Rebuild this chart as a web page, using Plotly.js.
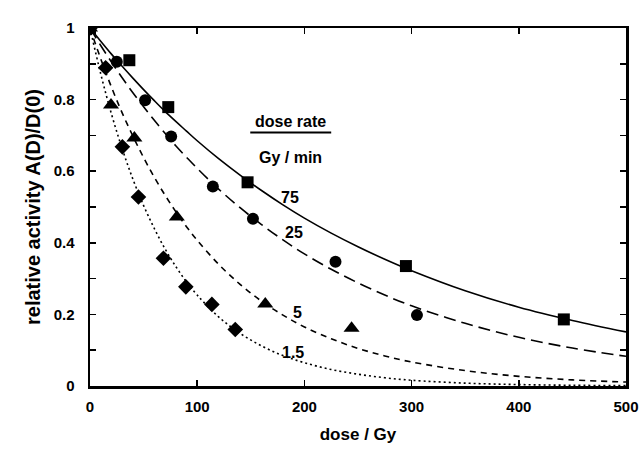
<!DOCTYPE html>
<html><head><meta charset="utf-8">
<script src="https://cdn.plot.ly/plotly-3.0.1.min.js"></script>
<style>html,body{margin:0;padding:0;background:#fff}#chart{width:641px;height:449px}</style>
</head><body><div id="chart"></div>
<script>
// measured points
const sqX = [0, 36.7, 73, 147, 294.7, 442];
const sqY = [1.0, 0.91, 0.779, 0.569, 0.335, 0.186];
const ciX = [0, 25, 51.4, 75.7, 114.6, 152, 229, 305];
const ciY = [1.0, 0.906, 0.798, 0.697, 0.557, 0.467, 0.347, 0.198];
const trX = [0, 19.6, 41.4, 81, 163.5, 244];
const trY = [1.0, 0.785, 0.693, 0.472, 0.229, 0.161];
const diX = [0, 14.6, 30.2, 45.2, 68.5, 89.4, 113.7, 135.5];
const diY = [1.0, 0.889, 0.668, 0.528, 0.357, 0.277, 0.228, 0.158];

// fitted curves
const curveX = [0,10,20,30,40,50,60,70,80,90,100,120,140,160,180,200,225,250,275,300,350,400,450,500];
const fit75  = [1,0.963,0.927,0.893,0.860,0.828,0.797,0.767,0.739,0.712,0.685,0.635,0.589,0.546,0.506,0.469,0.427,0.389,0.354,0.322,0.266,0.220,0.183,0.151];
const fit25  = [1,0.951,0.905,0.861,0.819,0.780,0.742,0.706,0.671,0.639,0.608,0.550,0.498,0.451,0.408,0.369,0.326,0.288,0.254,0.224,0.175,0.136,0.106,0.083];
const fit5   = [1,0.914,0.835,0.763,0.698,0.638,0.583,0.533,0.487,0.445,0.407,0.340,0.284,0.237,0.198,0.165,0.132,0.105,0.084,0.067,0.043,0.027,0.017,0.011];
const fit15  = [1,0.872,0.760,0.663,0.578,0.504,0.440,0.383,0.334,0.291,0.254,0.193,0.147,0.112,0.085,0.065,0.046,0.033,0.023,0.016,0.008,0.004,0.002,0.001];

const rateLabels = ['75','25','5','1.5'];
const labelX = [187, 190, 194, 189];
const labelY = [0.526, 0.43, 0.204, 0.094];

const F = {family:'Liberation Sans, Arial, sans-serif', color:'#000', size:15, weight:700};
const FA = {...F, size:16};

const traces = [
  {x:curveX, y:fit75, mode:'lines', line:{color:'#000', width:1.6, dash:'solid', shape:'spline'}, hoverinfo:'skip'},
  {x:curveX, y:fit25, mode:'lines', line:{color:'#000', width:1.6, dash:'12px,6px', shape:'spline'}, hoverinfo:'skip'},
  {x:curveX, y:fit5,  mode:'lines', line:{color:'#000', width:1.6, dash:'6px,5px', shape:'spline'}, hoverinfo:'skip'},
  {x:curveX, y:fit15, mode:'lines', line:{color:'#000', width:1.6, dash:'2px,3px', shape:'spline'}, hoverinfo:'skip'},
  {x:sqX, y:sqY, mode:'markers', marker:{symbol:'square', size:12, color:'#000'}},
  {x:ciX, y:ciY, mode:'markers', marker:{symbol:'circle', size:12, color:'#000'}},
  {x:trX, y:trY, mode:'markers', marker:{symbol:'triangle-up', size:14, color:'#000'}},
  {x:diX, y:diY, mode:'markers', marker:{symbol:'diamond', size:12, color:'#000'}}
];

const annotations = rateLabels.map((t,i)=>({x:labelX[i], y:labelY[i], text:t, showarrow:false, font:FA, xref:'x', yref:'y'}));
annotations.push({x:187, y:0.738, text:'dose rate', showarrow:false, font:FA});
annotations.push({x:187, y:0.637, text:'Gy / min', showarrow:false, font:FA});

const layout = {
  width:641, height:449,
  margin:{l:90, r:15, t:28, b:63},
  paper_bgcolor:'#fff', plot_bgcolor:'#fff',
  showlegend:false,
  font:F,
  xaxis:{range:[0,500], dtick:100, tick0:0, ticks:'inside', ticklen:6, tickwidth:1.5, tickcolor:'#000',
    showline:true, linewidth:2.5, linecolor:'#000', mirror:'ticks', showgrid:false, zeroline:false,
    tickfont:F, ticklabelstandoff:5,
    title:{text:'dose / Gy', font:{...F, size:17}, standoff:15}},
  yaxis:{range:[0,1], dtick:0.2, tick0:0, ticks:'inside', ticklen:6, tickwidth:1.5, tickcolor:'#000',
    minor:{dtick:0.1, ticks:'inside', ticklen:6, tickwidth:1.5, tickcolor:'#000'},
    showline:true, linewidth:2.5, linecolor:'#000', mirror:'ticks', showgrid:false, zeroline:false,
    tickfont:F, ticklabelstandoff:10,
    title:{text:'relative activity A(D)/D(0)', font:{...F, size:20}, standoff:8}},
  shapes:[{type:'line', xref:'x', yref:'y', x0:149.5, x1:225, y0:0.708, y1:0.708, line:{color:'#000', width:2}}],
  annotations:annotations
};
Plotly.newPlot('chart', traces, layout, {displayModeBar:false, staticPlot:true});
</script></body></html>
